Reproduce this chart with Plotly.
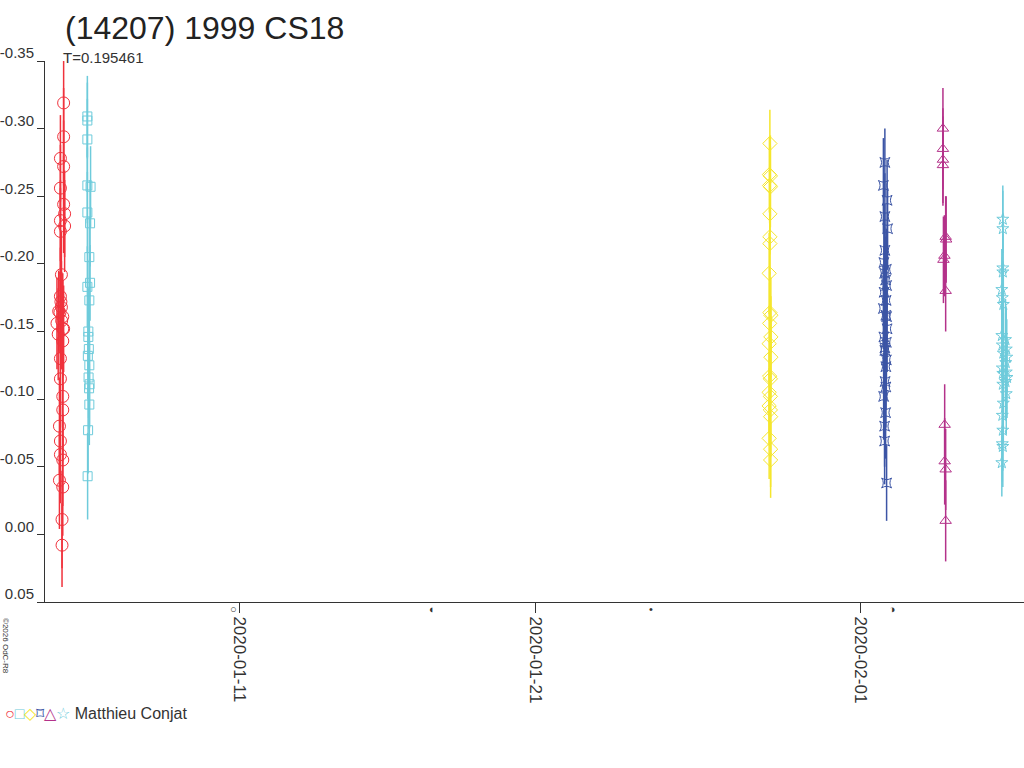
import pandas as pd
import plotly.graph_objects as go

# magnitude offsets, error bars and hours after each night's start
red_start = "2020-01-04 20:10"
red_hours = [5.6, 5.6, 3.0, 5.6, 3.0, 5.6, 6.4, 3.0, 6.4, 3.0, 3.8, 3.0, 3.8, 4.9, 1.6,
             4.9, 0.2, 5.6, 4.9, 3.0, 3.0, 4.9, 4.9, 2.2, 3.0, 3.0, 4.9, 2.2, 4.9, 4.3, 4.3,
             3.4, 2.6, 4.0, 1.2]
red_mag = [-0.319, -0.294, -0.278, -0.272, -0.256, -0.244, -0.237, -0.232, -0.228, -0.224,
           -0.192, -0.176, -0.168, -0.161, -0.165, -0.152, -0.156, -0.152, -0.143, -0.130,
           -0.115, -0.102, -0.092, -0.080, -0.069, -0.059, -0.055, -0.040, -0.035, -0.011,
           0.008, -0.172, -0.164, -0.158, -0.148]
red_err = [0.045, 0.036, 0.032, 0.034, 0.032, 0.036, 0.032, 0.030, 0.034, 0.032,
           0.032, 0.036, 0.034, 0.032, 0.030, 0.036, 0.034, 0.032, 0.036, 0.034,
           0.036, 0.036, 0.038, 0.036, 0.036, 0.036, 0.034, 0.036, 0.036, 0.036,
           0.031, 0.032, 0.030, 0.036, 0.034]

cyan_start = "2020-01-05 20:00"
cyan_hours = [1.0, 1.0, 1.0, 1.0, 3.6, 1.0, 3.2, 2.6, 3.2, 1.0, 2.6, 1.8, 1.8, 2.2, 1.4,
              2.6, 2.0, 2.8, 2.4, 2.6, 1.6, 1.2]
cyan_mag = [-0.309, -0.306, -0.292, -0.258, -0.257, -0.238, -0.230, -0.205, -0.186, -0.183,
            -0.173, -0.150, -0.146, -0.137, -0.132, -0.125, -0.116, -0.111, -0.108, -0.096,
            -0.077, -0.043]
cyan_err = [0.030, 0.028, 0.030, 0.028, 0.030, 0.030, 0.032, 0.030, 0.028, 0.030,
            0.030, 0.032, 0.030, 0.030, 0.032, 0.030, 0.030, 0.032, 0.030, 0.030,
            0.032, 0.032]

yellow_start = "2020-01-28 19:00"
yellow_hours = [3.2, 2.8, 3.6, 3.0, 3.6, 3.2, 3.2, 3.2, 2.6, 3.2, 4.0, 3.0, 4.0, 2.6,
                4.0, 3.0, 3.6, 2.6, 3.6, 2.6, 3.6, 3.8, 2.6, 3.8, 3.8]
yellow_mag = [-0.289, -0.266, -0.265, -0.258, -0.257, -0.237, -0.220, -0.215, -0.193,
              -0.164, -0.162, -0.156, -0.146, -0.141, -0.131, -0.117, -0.115, -0.105,
              -0.102, -0.095, -0.092, -0.087, -0.071, -0.063, -0.055]
yellow_err = [0.025, 0.028, 0.030, 0.028, 0.030, 0.030, 0.028, 0.030, 0.030, 0.030,
              0.028, 0.030, 0.030, 0.028, 0.030, 0.030, 0.028, 0.030, 0.030, 0.028,
              0.030, 0.030, 0.030, 0.028, 0.028]

blue_start = "2020-02-01 17:00"
blue_hours = [2.4, 1.2, 4.2, 2.4, 4.6, 2.4, 1.6, 3.6, 2.2, 3.0, 3.8, 1.8, 3.4, 1.2, 3.2,
              3.8, 4.2, 1.6, 3.6, 2.4, 2.4, 3.6, 3.2, 2.6, 3.2, 1.4, 3.0, 2.2, 2.2, 3.8]
blue_mag = [-0.275, -0.258, -0.247, -0.235, -0.226, -0.210, -0.201, -0.196, -0.193, -0.188,
            -0.184, -0.179, -0.173, -0.167, -0.162, -0.161, -0.152, -0.146, -0.142, -0.138,
            -0.136, -0.129, -0.124, -0.113, -0.109, -0.102, -0.090, -0.080, -0.069, -0.038]
blue_err = [0.025, 0.035, 0.030, 0.032, 0.030, 0.034, 0.032, 0.030, 0.034, 0.032,
            0.030, 0.034, 0.032, 0.030, 0.034, 0.030, 0.032, 0.034, 0.030, 0.032,
            0.034, 0.030, 0.032, 0.034, 0.030, 0.032, 0.034, 0.030, 0.032, 0.028]

purple_start = "2020-02-03 17:40"
purple_hours = [0.8, 0.8, 0.8, 0.8, 3.0, 3.4, 2.0, 1.2, 3.0, 2.2, 2.2, 3.0, 3.0]
purple_mag = [-0.300, -0.285, -0.277, -0.273, -0.220, -0.218, -0.206, -0.203, -0.180,
              -0.081, -0.054, -0.048, -0.010]
purple_err = [0.030, 0.030, 0.032, 0.030, 0.030, 0.032, 0.030, 0.032, 0.030,
              0.030, 0.032, 0.030, 0.030]

star_start = "2020-02-05 15:00"
star_hours = [4.0, 4.0, 4.0, 4.0, 3.2, 3.6, 4.4, 3.2, 6.2, 3.6, 6.8, 4.4, 7.2, 6.4, 3.6,
              6.8, 4.0, 7.4, 6.2, 4.0, 6.8, 4.4, 3.6, 4.0, 3.6, 4.0, 3.2]
star_mag = [-0.233, -0.226, -0.197, -0.194, -0.181, -0.175, -0.170, -0.147, -0.144, -0.140,
            -0.137, -0.134, -0.131, -0.127, -0.123, -0.120, -0.119, -0.116, -0.113, -0.111,
            -0.104, -0.097, -0.088, -0.077, -0.067, -0.065, -0.053]
star_err = [0.025, 0.028, 0.030, 0.028, 0.030, 0.030, 0.028, 0.030, 0.030, 0.028,
            0.030, 0.030, 0.028, 0.030, 0.030, 0.028, 0.030, 0.030, 0.028, 0.030,
            0.030, 0.028, 0.030, 0.030, 0.028, 0.030, 0.025]

x_ticks = ["2020-01-11", "2020-01-21", "2020-02-01"]
y_ticks = [-0.35, -0.30, -0.25, -0.20, -0.15, -0.10, -0.05, 0.00, 0.05]
y_labels = ["-0.35", "-0.30", "-0.25", "-0.20", "-0.15", "-0.10", "-0.05", "0.00", "0.05"]
moon_dates = ["2020-01-10 19:21", "2020-01-17 12:58", "2020-01-24 21:42", "2020-02-02 01:41"]
moon_glyphs = ["○", "◐", "•", "◑"]

series = [
    (red_start, red_hours, red_mag, red_err, "#f0323c", "circle-open", 12),
    (cyan_start, cyan_hours, cyan_mag, cyan_err, "#6ecbdb", "square-open", 9),
    (yellow_start, yellow_hours, yellow_mag, yellow_err, "#f5e62d", "diamond-open", 11),
    (blue_start, blue_hours, blue_mag, blue_err, "#3c55a5", "star-square-open", 9),
    (purple_start, purple_hours, purple_mag, purple_err, "#b4328a", "triangle-up-open", 10),
    (star_start, star_hours, star_mag, star_err, "#6ecbdb", "star-open", 9),
]

fig = go.Figure()
for start, hours, mag, err, col, sym, size in series:
    t = pd.Timestamp(start) + pd.to_timedelta(hours, unit="h")
    fig.add_trace(go.Scatter(
        x=t, y=mag, mode="markers",
        marker=dict(symbol=sym, size=size, color=col, line=dict(width=1, color=col)),
        error_y=dict(type="data", array=err, color=col, thickness=1.5, width=0),
        showlegend=False))

# moon phases just under the time axis
for d, g in zip(moon_dates, moon_glyphs):
    fig.add_annotation(x=d, y=0, xref="x", yref="paper", yanchor="middle", yshift=-7,
                       text=g, showarrow=False, font=dict(size=11, color="#333"))

fig.update_layout(
    width=1024, height=768,
    margin=dict(l=45, r=0, t=61, b=166),
    paper_bgcolor="white", plot_bgcolor="white",
    font=dict(family="Liberation Sans, Arial, sans-serif", color="#333"),
    showlegend=False,
)
fig.add_annotation(x=18 / 979, y=1 + 33 / 541, xref="paper", yref="paper",
                   xanchor="left", yanchor="middle", text="(14207) 1999 CS18",
                   showarrow=False, font=dict(size=32, color="#222"))
fig.add_annotation(x=16 / 979, y=1 + 3 / 541, xref="paper", yref="paper",
                   xanchor="left", yanchor="middle", text="T=0.195461",
                   showarrow=False, font=dict(size=15, color="#333"))
fig.add_annotation(x=-39 / 979, y=-44 / 541, xref="paper", yref="paper",
                   xanchor="center", yanchor="middle", text="©2026 OdC-R8",
                   textangle=90, showarrow=False, font=dict(size=8, color="#333"))
legend_txt = ("<span style='color:#f0323c'>○</span><span style='color:#6ecbdb'>□</span>"
              "<span style='color:#f5e62d'>◇</span><span style='color:#3c55a5'>⌑</span>"
              "<span style='color:#b4328a'>△</span><span style='color:#6ecbdb'>☆</span>"
              " Matthieu Conjat")
fig.add_annotation(x=-42 / 979, y=-111 / 541, xref="paper", yref="paper",
                   xanchor="left", yanchor="middle", text=legend_txt,
                   showarrow=False, font=dict(size=16, color="#333"))

fig.update_xaxes(
    type="date", range=["2020-01-04 10:40", "2020-02-06 12:10"],
    tickvals=x_ticks, ticktext=x_ticks, tickangle=90,
    ticks="outside", ticklen=10, tickcolor="#333", automargin=False,
    showline=True, linecolor="#333", linewidth=1, showgrid=False, zeroline=False,
    tickfont=dict(size=17, color="#333"),
)
fig.update_yaxes(
    range=[0.05, -0.35], tickvals=y_ticks, ticktext=y_labels,
    ticks="outside", ticklen=7, tickcolor="#333", automargin=False,
    ticklabelposition="outside", ticklabelshift=8, ticklabelstandoff=0,
    showline=True, linecolor="#333", linewidth=1, showgrid=False, zeroline=False,
    tickfont=dict(size=15, color="#333"),
)

# the page body has a default 8px margin; drop it so the figure sits at 0,0
fig.write_html("out.html", config={"displayModeBar": False},
               post_script="document.body.style.margin='0';")
